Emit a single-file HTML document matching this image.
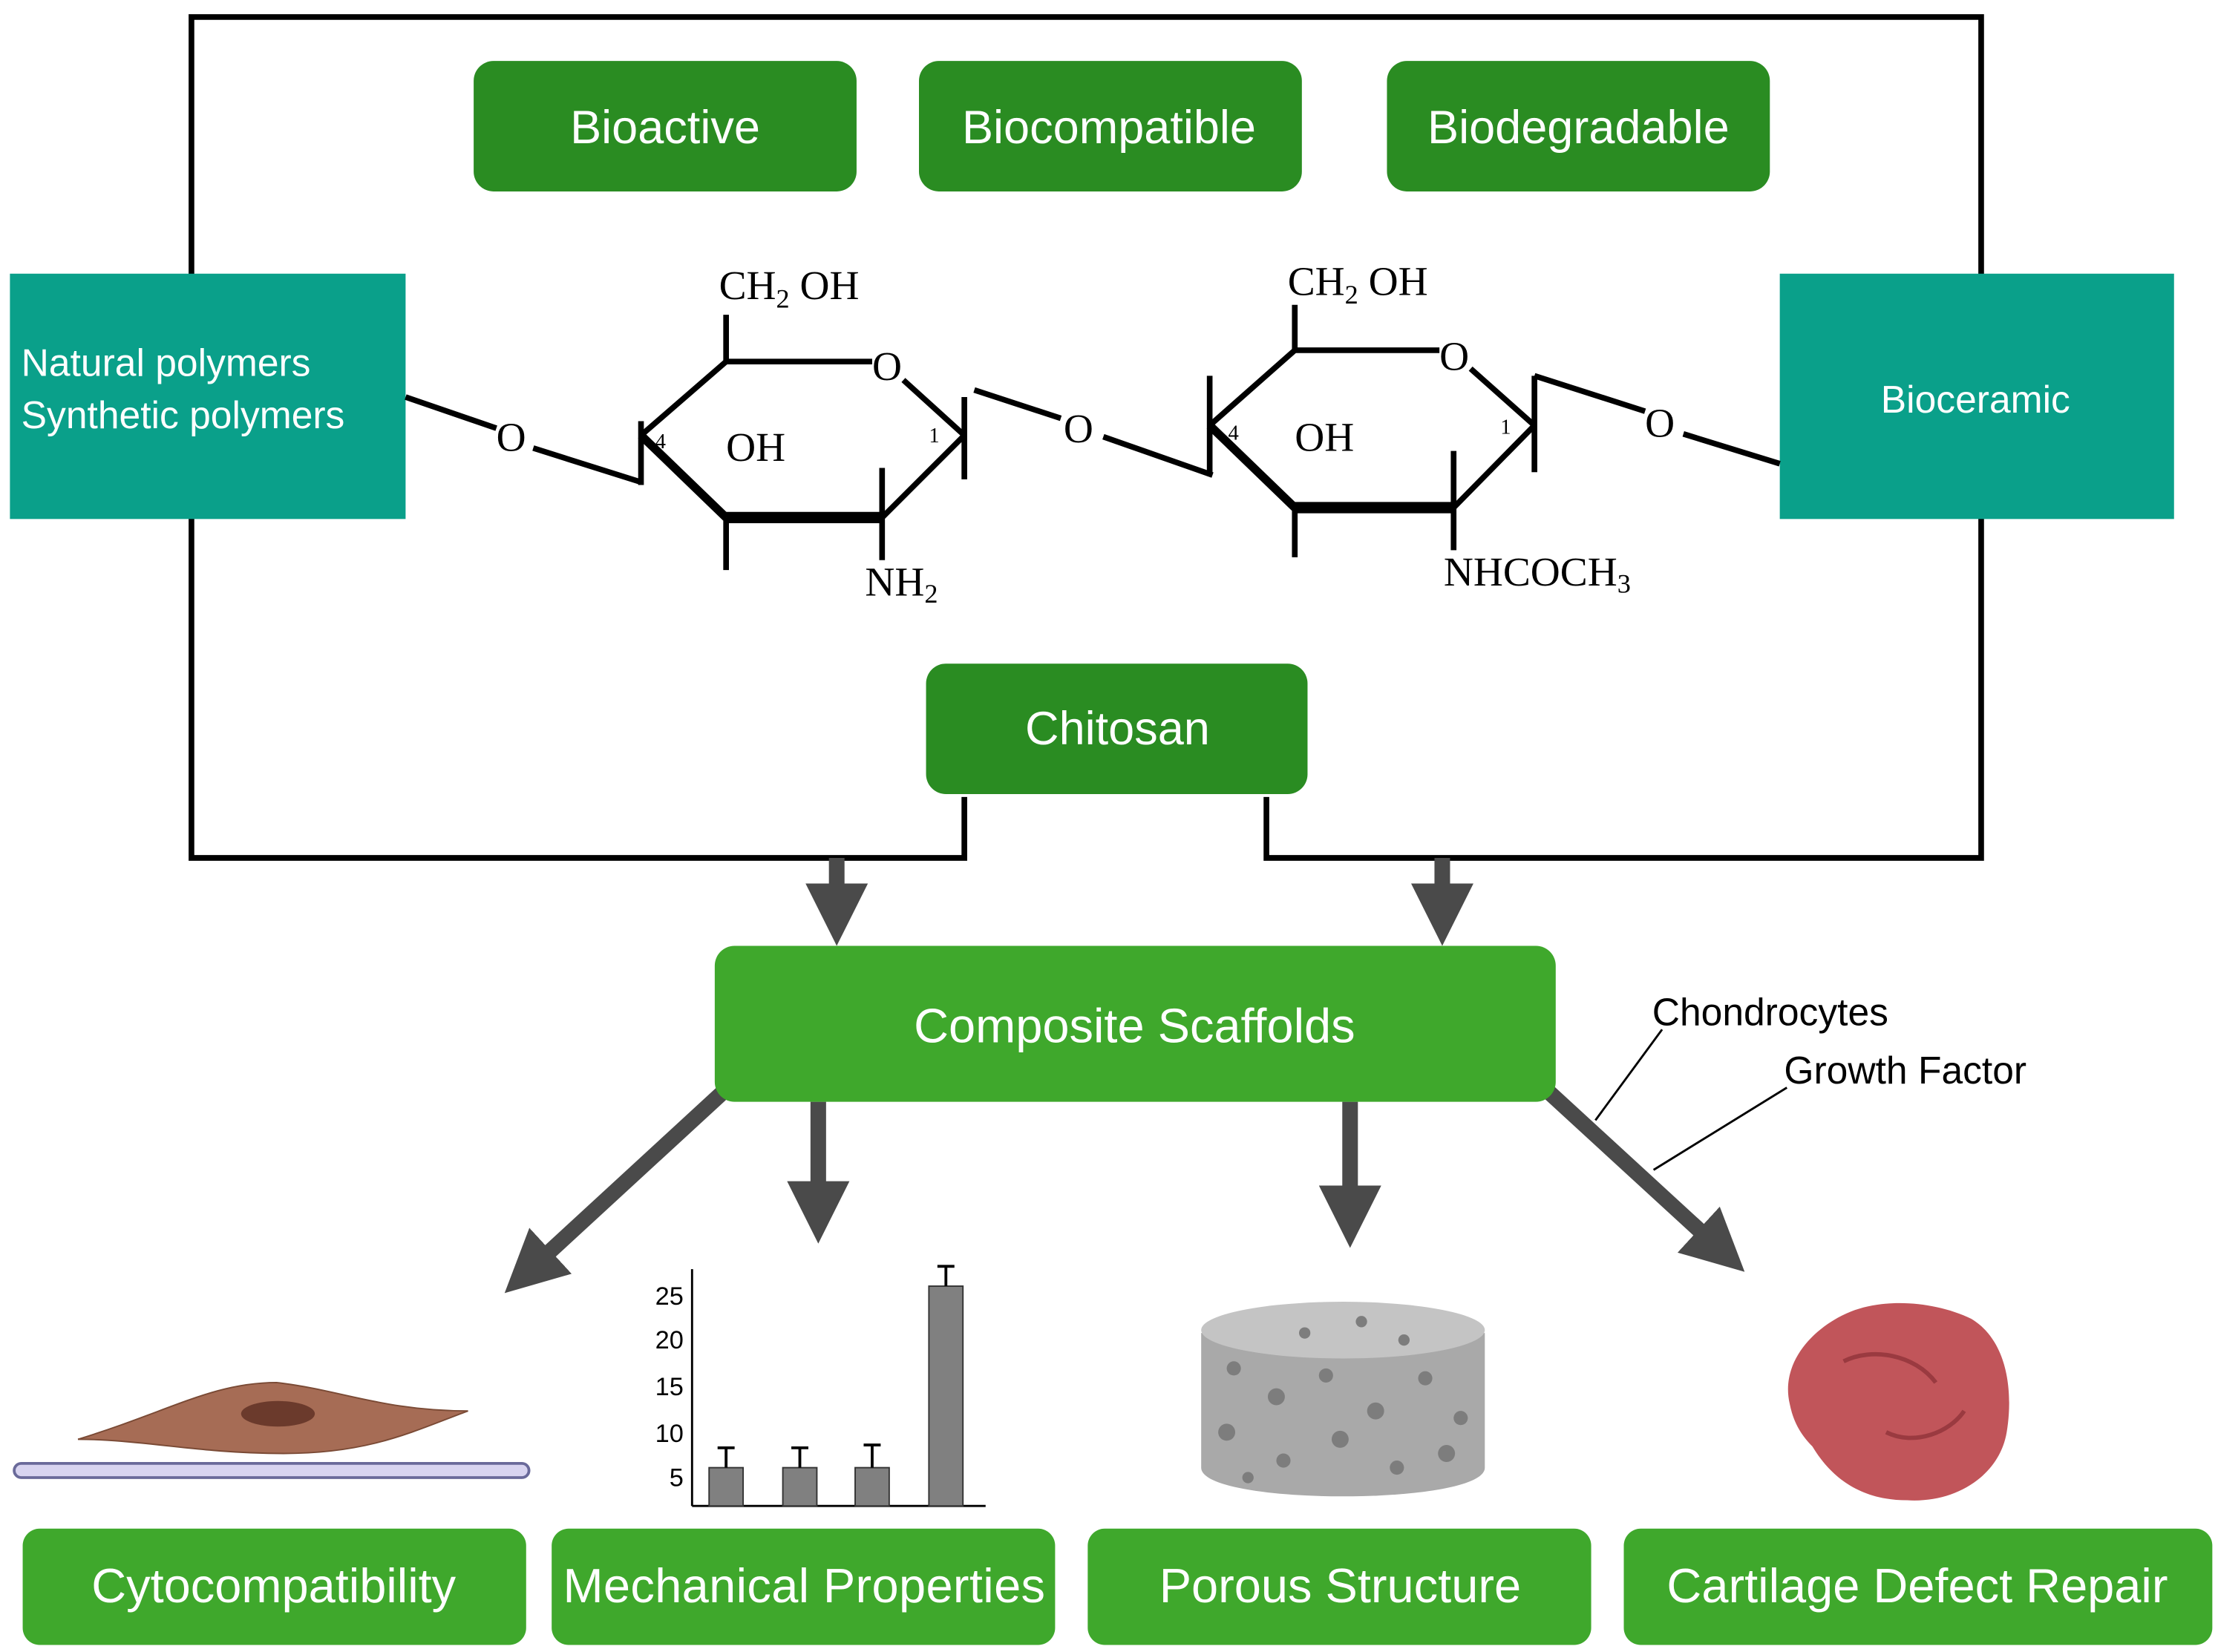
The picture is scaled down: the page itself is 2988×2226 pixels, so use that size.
<!DOCTYPE html>
<html><head><meta charset="utf-8"><style>
html,body{margin:0;padding:0;background:#fff;}
svg{display:block;}
text{font-family:"Liberation Sans",sans-serif;}
.ser{font-family:"Liberation Serif",serif;}
</style></head><body>
<svg width="2988" height="2226" viewBox="0 0 1564 1165" preserveAspectRatio="none" xmlns="http://www.w3.org/2000/svg">
<defs>
<marker id="ah" markerWidth="4" markerHeight="4" refX="2" refY="2" orient="auto" markerUnits="strokeWidth"><path d="M0,0 L4,2 L0,4 z" fill="#4a4a4a"/></marker>
</defs>
<!-- frame -->
<path d="M680,562 V605 H135 V12 H1397 V605 H893 V562" fill="none" stroke="#000" stroke-width="4"/>
<!-- top boxes -->
<g fill="#2a8c22">
<rect x="334" y="43" width="270" height="92" rx="14"/>
<rect x="648" y="43" width="270" height="92" rx="14"/>
<rect x="978" y="43" width="270" height="92" rx="14"/>
<rect x="653" y="468" width="269" height="92" rx="14"/>
</g>
<g fill="#fff" font-size="33" text-anchor="middle">
<text x="469" y="101">Bioactive</text>
<text x="782" y="101">Biocompatible</text>
<text x="1113" y="101">Biodegradable</text>
<text x="788" y="525">Chitosan</text>
</g>
<!-- teal boxes -->
<rect x="7" y="193" width="279" height="173" fill="#0aa08a"/>
<rect x="1255" y="193" width="278" height="173" fill="#0aa08a"/>
<g fill="#fff" font-size="27">
<text x="15" y="265">Natural polymers</text>
<text x="15" y="302">Synthetic polymers</text>
<text x="1393" y="291" text-anchor="middle">Bioceramic</text>
</g>
<!-- chemistry -->
<g stroke="#000" stroke-width="4" fill="none">
<line x1="286" y1="280" x2="350" y2="302"/>
<line x1="376" y1="316" x2="452" y2="340"/>
<line x1="452" y1="297" x2="452" y2="342"/>
<polyline points="452,307 512,255 615,255"/>
<line x1="637" y1="268" x2="680" y2="307"/>
<line x1="680" y1="307" x2="622" y2="365"/>
<line x1="622" y1="365" x2="512" y2="365" stroke-width="8"/>
<line x1="512" y1="365" x2="452" y2="307" stroke-width="6"/>
<line x1="512" y1="222" x2="512" y2="255"/>
<line x1="512" y1="365" x2="512" y2="402"/>
<line x1="622" y1="330" x2="622" y2="395"/>
<line x1="680" y1="280" x2="680" y2="338"/>
<line x1="687" y1="275" x2="748" y2="295"/>
<line x1="778" y1="308" x2="855" y2="335"/>
<line x1="853" y1="265" x2="853" y2="335"/>
<polyline points="853,300 913,247 1015,247"/>
<line x1="1037" y1="260" x2="1082" y2="300"/>
<line x1="1082" y1="300" x2="1025" y2="358"/>
<line x1="1025" y1="358" x2="913" y2="358" stroke-width="8"/>
<line x1="913" y1="358" x2="853" y2="300" stroke-width="6"/>
<line x1="913" y1="215" x2="913" y2="247"/>
<line x1="913" y1="358" x2="913" y2="393"/>
<line x1="1025" y1="318" x2="1025" y2="388"/>
<line x1="1082" y1="265" x2="1082" y2="333"/>
<line x1="1082" y1="265" x2="1160" y2="290"/>
<line x1="1187" y1="306" x2="1255" y2="327"/>
</g>
<g class="ser" font-size="29" fill="#000">
<text class="ser" x="350" y="318">O</text>
<text class="ser" x="507" y="211">CH<tspan font-size="19" dy="6">2</tspan><tspan dy="-6"> OH</tspan></text>
<text class="ser" x="615" y="268">O</text>
<text class="ser" x="512" y="325">OH</text>
<text class="ser" x="462" y="316" font-size="15">4</text>
<text class="ser" x="655" y="312" font-size="15">1</text>
<text class="ser" x="610" y="420">NH<tspan font-size="19" dy="5">2</tspan></text>
<text class="ser" x="750" y="312">O</text>
<text class="ser" x="908" y="208">CH<tspan font-size="19" dy="6">2</tspan><tspan dy="-6"> OH</tspan></text>
<text class="ser" x="1015" y="261">O</text>
<text class="ser" x="913" y="318">OH</text>
<text class="ser" x="866" y="310" font-size="15">4</text>
<text class="ser" x="1058" y="306" font-size="15">1</text>
<text class="ser" x="1018" y="413">NHCOCH<tspan font-size="19" dy="5">3</tspan></text>
<text class="ser" x="1160" y="308">O</text>
</g>
<!-- arrows -->
<g stroke="#4a4a4a" stroke-width="11" marker-end="url(#ah)">
<line x1="590" y1="605" x2="590" y2="645"/>
<line x1="1017" y1="605" x2="1017" y2="645"/>
<line x1="577" y1="777" x2="577" y2="855"/>
<line x1="952" y1="777" x2="952" y2="858"/>
<line x1="510" y1="770" x2="372" y2="897"/>
<line x1="1092" y1="770" x2="1214" y2="882"/>
</g>
<!-- composite -->
<rect x="504" y="667" width="593" height="110" rx="14" fill="#3fa82c"/>
<text x="800" y="735" font-size="34" fill="#fff" text-anchor="middle">Composite Scaffolds</text>
<g stroke="#000" stroke-width="1.5">
<line x1="1125" y1="790" x2="1172" y2="726"/>
<line x1="1166" y1="825" x2="1260" y2="767"/>
</g>
<text x="1165" y="723" font-size="27">Chondrocytes</text>
<text x="1258" y="764" font-size="27">Growth Factor</text>
<!-- cell -->
<rect x="10" y="1032" width="363" height="10" rx="5" fill="#d8d4f0" stroke="#6a6a9a" stroke-width="2"/>
<path d="M55,1015 C120,995 150,975 195,975 C240,980 270,995 330,995 C290,1010 260,1025 200,1025 C140,1025 100,1015 55,1015 Z" fill="#a66c55" stroke="#7a4a35" stroke-width="1"/>
<ellipse cx="196" cy="997" rx="26" ry="9" fill="#6b3a2c"/>
<!-- chart -->
<g stroke="#000" stroke-width="1.5" fill="none">
<line x1="488" y1="895" x2="488" y2="1062"/>
<line x1="488" y1="1062" x2="695" y2="1062"/>
</g>
<g fill="#808080" stroke="#333" stroke-width="1">
<rect x="500" y="1035" width="24" height="27"/>
<rect x="552" y="1035" width="24" height="27"/>
<rect x="603" y="1035" width="24" height="27"/>
<rect x="655" y="907" width="24" height="155"/>
</g>
<g stroke="#000" stroke-width="2">
<line x1="512" y1="1035" x2="512" y2="1021"/><line x1="506" y1="1021" x2="518" y2="1021"/>
<line x1="564" y1="1035" x2="564" y2="1021"/><line x1="558" y1="1021" x2="570" y2="1021"/>
<line x1="615" y1="1035" x2="615" y2="1019"/><line x1="609" y1="1019" x2="621" y2="1019"/>
<line x1="667" y1="907" x2="667" y2="893"/><line x1="661" y1="893" x2="673" y2="893"/>
</g>
<g font-size="18" fill="#000" text-anchor="end">
<text x="482" y="920">25</text><text x="482" y="951">20</text><text x="482" y="984">15</text><text x="482" y="1017">10</text><text x="482" y="1048">5</text>
</g>
<!-- porous -->
<path d="M847,940 V1035 C847,1062 1047,1062 1047,1035 V940 Z" fill="#a9a9a9"/>
<ellipse cx="947" cy="938" rx="100" ry="20" fill="#c4c4c4"/>
<g fill="#7d7d7d">
<circle cx="870" cy="965" r="5"/><circle cx="900" cy="985" r="6"/><circle cx="935" cy="970" r="5"/><circle cx="970" cy="995" r="6"/><circle cx="1005" cy="972" r="5"/><circle cx="1030" cy="1000" r="5"/>
<circle cx="865" cy="1010" r="6"/><circle cx="905" cy="1030" r="5"/><circle cx="945" cy="1015" r="6"/><circle cx="985" cy="1035" r="5"/><circle cx="1020" cy="1025" r="6"/><circle cx="880" cy="1042" r="4"/>
<circle cx="920" cy="940" r="4"/><circle cx="960" cy="932" r="4"/><circle cx="990" cy="945" r="4"/>
</g>
<!-- cartilage -->
<path d="M1262,990 C1255,960 1280,935 1305,925 C1330,915 1365,918 1390,930 C1415,945 1420,980 1415,1010 C1410,1040 1380,1060 1345,1058 C1310,1058 1290,1040 1278,1020 C1268,1010 1264,1000 1262,990 Z" fill="#c1555a"/>
<path d="M1300,960 C1320,950 1350,955 1365,975 M1330,1010 C1350,1020 1375,1010 1385,995" stroke="#9a3a40" stroke-width="3" fill="none"/>
<!-- bottom boxes -->
<g fill="#3fa82c">
<rect x="16" y="1078" width="355" height="82" rx="12"/>
<rect x="389" y="1078" width="355" height="82" rx="12"/>
<rect x="767" y="1078" width="355" height="82" rx="12"/>
<rect x="1145" y="1078" width="415" height="82" rx="12"/>
</g>
<g fill="#fff" font-size="34" text-anchor="middle">
<text x="193" y="1130">Cytocompatibility</text>
<text x="567" y="1130" textLength="340">Mechanical Properties</text>
<text x="945" y="1130">Porous Structure</text>
<text x="1352" y="1130">Cartilage Defect Repair</text>
</g>
</svg>
</body></html>
